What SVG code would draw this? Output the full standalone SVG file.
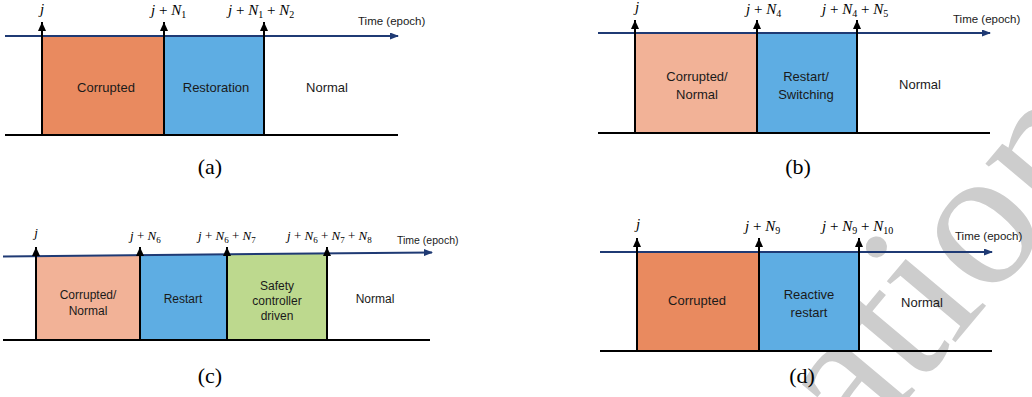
<svg xmlns="http://www.w3.org/2000/svg" width="1032" height="397" viewBox="0 0 1032 397">
<style>
.tl{stroke:#1f3a74;stroke-width:2;fill:none}
.bl{stroke:#000;stroke-width:2;fill:none}
.vl{stroke:#000;stroke-width:2;fill:none}
.lab{font-family:"Liberation Sans",Arial,sans-serif;fill:#1a1a1a;text-anchor:middle}
.time{font-family:"Liberation Sans",Arial,sans-serif;fill:#1a1a1a}
.m{font-family:"Liberation Serif","Times New Roman",serif;fill:#000}
.it{font-style:italic}
.cap{font-family:"Liberation Serif","Times New Roman",serif;font-size:22px;fill:#000;text-anchor:middle}
.corr{fill:#e98a5f}
.light{fill:#f2b297}
.blue{fill:#5eade3}
.green{fill:#bdd98e}
.wm{font-family:"Liberation Serif","Times New Roman",serif;fill:#cdcdcd}
</style>
<defs>
<marker id="up" markerUnits="userSpaceOnUse" markerWidth="9" markerHeight="8" refX="9" refY="4" orient="auto" viewBox="0 0 9 8">
<path d="M0 0 L9 4 L0 8 Z" fill="#000"/>
</marker>
<marker id="ra" markerUnits="userSpaceOnUse" markerWidth="9" markerHeight="7" refX="8" refY="3.5" orient="auto" viewBox="0 0 9 7">
<path d="M0 0 L9 3.5 L0 7 Z" fill="#1f3a74"/>
</marker>
</defs>

<text class="wm" font-size="200" transform="translate(860,456) rotate(-50)">ation</text>

<!-- Panel (a) -->
<g id="a-corrupted"><rect class="corr" x="42" y="36" width="122" height="99"/><text class="lab" x="106" y="92" font-size="13">Corrupted</text></g>
<g id="a-restoration"><rect class="blue" x="164" y="36" width="100" height="99"/><text class="lab" x="216" y="92" font-size="13">Restoration</text></g>
<g id="a-normal"><text class="lab" x="327" y="92" font-size="13">Normal</text></g>
<g id="a-connectors">
<line class="tl" x1="5" y1="36" x2="398" y2="36" marker-end="url(#ra)"/>
<line class="bl" x1="5" y1="135" x2="398" y2="135"/>
<line class="vl" x1="42" y1="135" x2="42" y2="22" marker-end="url(#up)"/>
<line class="vl" x1="164" y1="135" x2="164" y2="22" marker-end="url(#up)"/>
<line class="vl" x1="264" y1="135" x2="264" y2="22" marker-end="url(#up)"/>
</g>
<g id="a-labels">
<text x="42" y="14" text-anchor="middle" class="m it" font-size="15">j</text>
<text x="151" y="15" class="m" font-size="15"><tspan class="it">j</tspan> + <tspan class="it">N</tspan><tspan font-size="10" dy="3">1</tspan></text>
<text x="228" y="15" class="m" font-size="15"><tspan class="it">j</tspan> + <tspan class="it">N</tspan><tspan font-size="10" dy="3">1</tspan><tspan dy="-3"> + </tspan><tspan class="it">N</tspan><tspan font-size="10" dy="3">2</tspan></text>
<text class="time" x="358" y="25" font-size="11.5">Time (epoch)</text>
<text class="cap" x="210" y="174">(a)</text>
</g>

<!-- Panel (b) -->
<g id="b-corrupted"><rect class="light" x="635" y="33" width="122" height="100"/><text class="lab" x="697" y="81" font-size="13">Corrupted/</text><text class="lab" x="697" y="99" font-size="13">Normal</text></g>
<g id="b-restart"><rect class="blue" x="757" y="33" width="100" height="100"/><text class="lab" x="806" y="81" font-size="13">Restart/</text><text class="lab" x="806" y="99" font-size="13">Switching</text></g>
<g id="b-normal"><text class="lab" x="920" y="89" font-size="13">Normal</text></g>
<g id="b-connectors">
<line class="tl" x1="598" y1="33" x2="990" y2="33" marker-end="url(#ra)"/>
<line class="bl" x1="598" y1="133" x2="990" y2="133"/>
<line class="vl" x1="635" y1="133" x2="635" y2="20" marker-end="url(#up)"/>
<line class="vl" x1="757" y1="133" x2="757" y2="20" marker-end="url(#up)"/>
<line class="vl" x1="857" y1="133" x2="857" y2="20" marker-end="url(#up)"/>
</g>
<g id="b-labels">
<text x="637" y="12" text-anchor="middle" class="m it" font-size="15">j</text>
<text x="746" y="14" class="m" font-size="15"><tspan class="it">j</tspan> + <tspan class="it">N</tspan><tspan font-size="10" dy="3">4</tspan></text>
<text x="822" y="14" class="m" font-size="15"><tspan class="it">j</tspan> + <tspan class="it">N</tspan><tspan font-size="10" dy="3">4</tspan><tspan dy="-3"> + </tspan><tspan class="it">N</tspan><tspan font-size="10" dy="3">5</tspan></text>
<text class="time" x="953" y="23" font-size="11.5">Time (epoch)</text>
<text class="cap" x="798" y="174">(b)</text>
</g>

<!-- Panel (c) -->
<g id="c-corrupted"><polygon class="light" points="36,256.1 140,255.1 140,340 36,340"/><text class="lab" x="88" y="299" font-size="12">Corrupted/</text><text class="lab" x="88" y="315" font-size="12">Normal</text></g>
<g id="c-restart"><polygon class="blue" points="140,255.1 227,254.3 227,340 140,340"/><text class="lab" x="183" y="303" font-size="12">Restart</text></g>
<g id="c-safety"><polygon class="green" points="227,254.3 327,253.4 327,340 227,340"/><text class="lab" x="277" y="290" font-size="12">Safety</text><text class="lab" x="277" y="305" font-size="12">controller</text><text class="lab" x="277" y="320" font-size="12">driven</text></g>
<g id="c-normal"><text class="lab" x="375" y="303" font-size="12">Normal</text></g>
<g id="c-connectors">
<line class="tl" x1="3" y1="256.4" x2="432" y2="252.5" marker-end="url(#ra)"/>
<line class="bl" x1="3" y1="340" x2="430" y2="340"/>
<line class="vl" x1="36" y1="340" x2="36" y2="247" marker-end="url(#up)"/>
<line class="vl" x1="140" y1="340" x2="140" y2="247" marker-end="url(#up)"/>
<line class="vl" x1="227" y1="340" x2="227" y2="247" marker-end="url(#up)"/>
<line class="vl" x1="327" y1="340" x2="327" y2="247" marker-end="url(#up)"/>
</g>
<g id="c-labels">
<text x="36" y="237" text-anchor="middle" class="m it" font-size="13">j</text>
<text x="130" y="240" class="m" font-size="13"><tspan class="it">j</tspan> + <tspan class="it">N</tspan><tspan font-size="9" dy="3">6</tspan></text>
<text x="198" y="240" class="m" font-size="13"><tspan class="it">j</tspan> + <tspan class="it">N</tspan><tspan font-size="9" dy="3">6</tspan><tspan dy="-3"> + </tspan><tspan class="it">N</tspan><tspan font-size="9" dy="3">7</tspan></text>
<text x="287" y="240" class="m" font-size="13"><tspan class="it">j</tspan> + <tspan class="it">N</tspan><tspan font-size="9" dy="3">6</tspan><tspan dy="-3"> + </tspan><tspan class="it">N</tspan><tspan font-size="9" dy="3">7</tspan><tspan dy="-3"> + </tspan><tspan class="it">N</tspan><tspan font-size="9" dy="3">8</tspan></text>
<text class="time" x="397" y="244" font-size="10.5">Time (epoch)</text>
<text class="cap" x="210" y="383">(c)</text>
</g>

<!-- Panel (d) -->
<g id="d-corrupted"><rect class="corr" x="637" y="252" width="122" height="99"/><text class="lab" x="697" y="305" font-size="13">Corrupted</text></g>
<g id="d-restart"><rect class="blue" x="759" y="252" width="100" height="99"/><text class="lab" x="809" y="299" font-size="13">Reactive</text><text class="lab" x="809" y="317" font-size="13">restart</text></g>
<g id="d-normal"><text class="lab" x="922" y="307" font-size="13">Normal</text></g>
<g id="d-connectors">
<line class="tl" x1="600" y1="252" x2="992" y2="252" marker-end="url(#ra)"/>
<line class="bl" x1="600" y1="351" x2="992" y2="351"/>
<line class="vl" x1="637" y1="351" x2="637" y2="238" marker-end="url(#up)"/>
<line class="vl" x1="759" y1="351" x2="759" y2="238" marker-end="url(#up)"/>
<line class="vl" x1="859" y1="351" x2="859" y2="238" marker-end="url(#up)"/>
</g>
<g id="d-labels">
<text x="638" y="229" text-anchor="middle" class="m it" font-size="15">j</text>
<text x="745" y="231" class="m" font-size="15"><tspan class="it">j</tspan> + <tspan class="it">N</tspan><tspan font-size="10" dy="3">9</tspan></text>
<text x="822" y="231" class="m" font-size="15"><tspan class="it">j</tspan> + <tspan class="it">N</tspan><tspan font-size="10" dy="3">9</tspan><tspan dy="-3"> + </tspan><tspan class="it">N</tspan><tspan font-size="10" dy="3">10</tspan></text>
<text class="time" x="955" y="240" font-size="11.5">Time (epoch)</text>
<text class="cap" x="802" y="383">(d)</text>
</g>
</svg>
